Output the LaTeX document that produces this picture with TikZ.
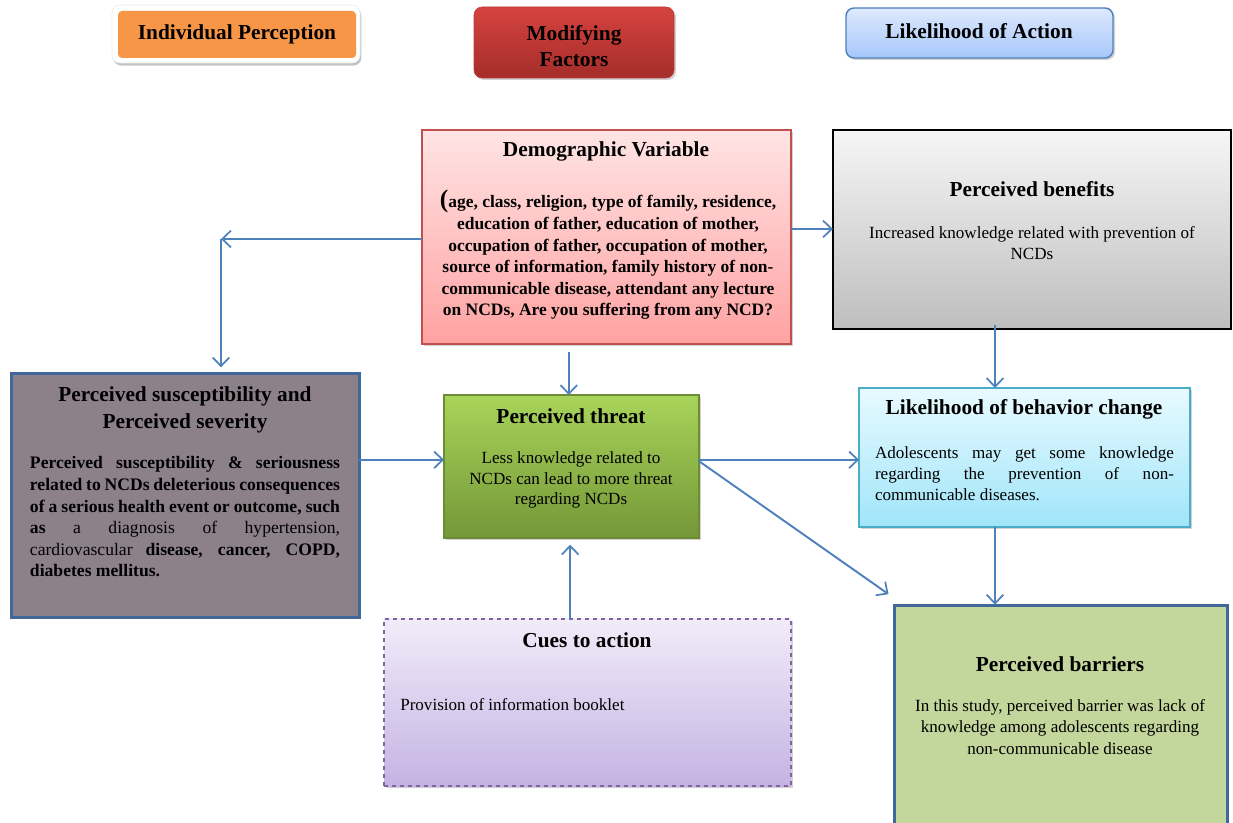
\documentclass[tikz,border=0pt]{standalone}
\usepackage{fontspec}
\setmainfont{Liberation Serif}
\usetikzlibrary{arrows.meta,shadows}
\definecolor{arrowblue}{HTML}{4F81BD}
\definecolor{darkblueframe}{HTML}{41679B}
\definecolor{orangefill}{HTML}{F79646}
\tikzset{
  box/.style={rectangle, inner sep=0pt, outer sep=0pt},
  shad/.style={drop shadow={opacity=0.35, shadow xshift=1.5pt, shadow yshift=-1.5pt}},
  ttl/.style={inner sep=0pt, align=center, font=\fontsize{16}{20}\selectfont\bfseries},
  bodyb/.style={inner sep=0pt, font=\fontsize{13.1}{16.2}\selectfont\bfseries},
  bodyr/.style={inner sep=0pt, font=\fontsize{12.8}{15.8}\selectfont},
  arr/.style={draw=arrowblue, line width=1.45pt, -{Straight Barb[length=6.5pt,width=12.5pt,line width=1.3pt]}},
}
\begin{document}
\begin{tikzpicture}[x=0.75pt,y=-0.75pt]
\clip (0,0) rectangle (1233,823);
\fill[white] (0,0) rectangle (1233,823);

% top header boxes
\node[box, drop shadow={opacity=0.45, shadow xshift=1pt, shadow yshift=-2pt}, fill=white, draw={rgb,255:red,235;green,235;blue,235}, rounded corners=6pt, minimum width=186pt, minimum height=43.5pt] (ipo) at (236,34) {};
\node[box, fill=orangefill, rounded corners=3pt, minimum width=178.5pt, minimum height=35.25pt] (ip) at (237,34.5) {};
\node[ttl] (iptxt) at (237,34) {Individual Perception};

\node[box, shad, top color={rgb,255:red,213;green,67;blue,63}, bottom color={rgb,255:red,165;green,45;blue,42}, draw={rgb,255:red,185;green,60;blue,56}, rounded corners=6pt, minimum width=150pt, minimum height=53.25pt] (mf) at (574,42.5) {};
\node[ttl, font=\fontsize{16}{19.5}\selectfont\bfseries] (mftxt) at (574,46) {Modifying\\Factors};

\node[box, shad, top color={rgb,255:red,222;green,233;blue,253}, bottom color={rgb,255:red,166;green,199;blue,250}, draw=arrowblue, line width=1.1pt, rounded corners=6pt, minimum width=200.25pt, minimum height=37.5pt] (la) at (979.5,33) {};
\node[ttl] (latxt) at (979,31) {Likelihood of Action};

% demographic variable
\node[box, shad, top color={rgb,255:red,255;green,228;blue,228}, bottom color={rgb,255:red,255;green,162;blue,162}, draw={rgb,255:red,192;green,80;blue,77}, line width=1.1pt, minimum width=276.75pt, minimum height=160.5pt] (dv) at (606.5,237) {};
\node[ttl] (dvt) at (606,151) {Demographic Variable};
\node[bodyb, align=center] (dvb) at (608,255) {{\fontsize{19}{16}\selectfont(}age, class, religion, type of family, residence,\\
education of father, education of mother,\\
occupation of father, occupation of mother,\\
source of information, family history of non-\\
communicable disease, attendant any lecture\\
on NCDs, Are you suffering from any NCD?};

% perceived benefits
\node[box, top color={rgb,255:red,246;green,246;blue,246}, bottom color={rgb,255:red,190;green,190;blue,190}, draw=black, line width=1.1pt, minimum width=298.5pt, minimum height=149.25pt] (pb) at (1032,229.5) {};
\node[ttl] (pbt) at (1032,189) {Perceived benefits};
\node[bodyr, align=center] (pbb) at (1032,243) {Increased knowledge related with prevention of\\NCDs};

% perceived susceptibility
\node[box, fill={rgb,255:red,141;green,129;blue,137}, draw=darkblueframe, line width=2.25pt, minimum width=261pt, minimum height=183pt] (ps) at (185,496) {};
\node[ttl] (pst) at (185,410) {Perceived susceptibility and\\Perceived severity};
\node[bodyb, font=\fontsize{13.2}{16.2}\selectfont\bfseries, text width=232.5pt, align=justify] (psb) at (185,517) {Perceived susceptibility \& seriousness\linebreak related to NCDs deleterious consequences\linebreak of a serious health event or outcome, such\linebreak as \mdseries a diagnosis of hypertension,\linebreak cardiovascular \bfseries disease, cancer, COPD,\linebreak diabetes mellitus.};

% perceived threat
\node[box, shad, top color={rgb,255:red,168;green,212;blue,90}, bottom color={rgb,255:red,116;green,151;blue,56}, draw={rgb,255:red,110;green,140;blue,52}, line width=1.1pt, minimum width=191.25pt, minimum height=107.25pt] (pt) at (571.5,466.5) {};
\node[ttl] (ptt) at (571,416) {Perceived threat};
\node[bodyr, align=center, font=\fontsize{12.8}{15.4}\selectfont] (ptb) at (571,480) {Less knowledge related to\\NCDs can lead to more threat\\regarding NCDs};

% likelihood of behavior change
\node[box, shad, top color={rgb,255:red,232;green,250;blue,255}, bottom color={rgb,255:red,160;green,229;blue,250}, draw={rgb,255:red,75;green,172;blue,198}, line width=1.1pt, minimum width=248.25pt, minimum height=104.25pt] (lb) at (1024.5,457.5) {};
\node[ttl] (lbt) at (1024,409) {Likelihood of behavior change};
\node[bodyr, text width=224.25pt, align=justify] (lbb) at (1024.5,474) {Adolescents may get some knowledge\linebreak regarding the prevention of non-\linebreak communicable diseases.};

% cues to action
\node[box, shad, top color={rgb,255:red,241;green,236;blue,249}, bottom color={rgb,255:red,197;green,179;blue,227}, draw={rgb,255:red,128;green,100;blue,162}, dashed, line width=1.1pt, minimum width=305.25pt, minimum height=125.25pt] (ca) at (587.5,702.5) {};
\node[ttl] (cat) at (587,640) {Cues to action};
\node[bodyr, anchor=west] (cab) at (400,705) {Provision of information booklet};

% perceived barriers
\node[box, fill={rgb,255:red,195;green,214;blue,155}, draw=darkblueframe, line width=2.25pt, minimum width=249.75pt, minimum height=172.5pt] (bar) at (1060.5,721) {};
\node[ttl] (bart) at (1060,664) {Perceived barriers};
\node[bodyr, align=center, font=\fontsize{12.8}{16.2}\selectfont] (barb) at (1060,727) {In this study, perceived barrier was lack of\\knowledge among adolescents regarding\\non-communicable disease};

% connectors
\coordinate (corner) at (221,239);
\coordinate (vx) at (995,0);
\coordinate (hy) at (0,229);
\draw[arr] (dv.west |- corner) -- (corner);
\draw[arr, shorten >=5pt] (corner) -- (corner |- ps.north);
\draw[arr] (dv.east |- hy) -- (pb.west |- hy);
\draw[arr, shorten <=6pt] ([xshift=-2pt]pt.north |- dv.south) -- ([xshift=-2pt]pt.north);
\draw[arr] ([yshift=5pt]ps.east |- pt.west) -- ([yshift=5pt]pt.west);
\draw[arr] ([yshift=5pt]pt.east) -- ([yshift=5pt]pt.east -| lb.west);
\draw[arr, shorten >=5pt] ([yshift=4pt]pt.east) -- ([yshift=6pt]bar.north west);
\draw[arr, shorten >=5pt] ([xshift=-1pt]pt.south |- ca.north) -- ([xshift=-1pt]pt.south);
\draw[arr, shorten <=-3pt] (vx |- pb.south) -- (vx |- lb.north);
\draw[arr, shorten >=1pt] (vx |- lb.south) -- (vx |- bar.north);
\end{tikzpicture}
\end{document}
